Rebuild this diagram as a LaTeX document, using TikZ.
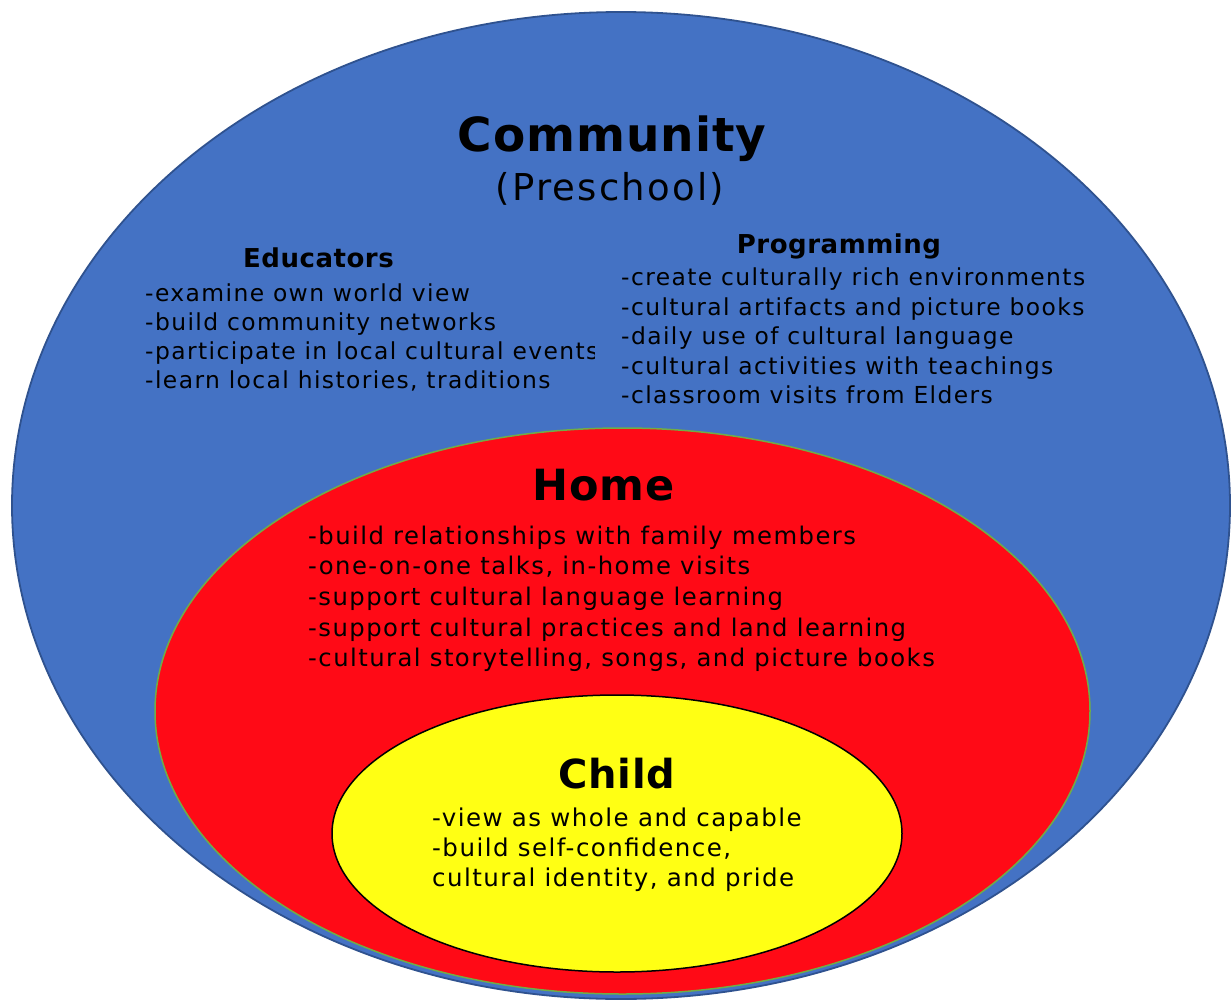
\documentclass[tikz,border=0pt]{standalone}
\usepackage{fontspec}
\newfontfamily\bodyf{DejaVu Sans}[LetterSpace=6]
\newfontfamily\headf{DejaVu Sans}[LetterSpace=2]
\definecolor{cblue}{HTML}{4472C4}
\definecolor{cbluedark}{HTML}{2F528F}
\definecolor{cred}{HTML}{FF0A16}
\definecolor{cgreen}{HTML}{70AD47}
\definecolor{cyellow}{HTML}{FFFF14}
\begin{document}
\begin{tikzpicture}[x=1pt,y=-1pt,
  body/.style={anchor=base west, inner sep=0pt, font=\bodyf\fontsize{#1}{28}\selectfont},
  body/.default=23.4,
  head/.style={anchor=base, inner sep=0pt, font=\headf\bfseries\fontsize{#1}{#1}\selectfont},
  sub/.style={anchor=base, inner sep=0pt, font=\bodyf\fontsize{#1}{#1}\selectfont}]
\useasboundingbox (0,0) rectangle (1232,1001);
% ellipses
\filldraw[fill=cblue, draw=cbluedark, line width=1.8pt] (621,505.5) ellipse [x radius=609pt, y radius=493.5pt];
\filldraw[fill=cred, draw=cgreen, line width=1.5pt] (622.5,711) ellipse [x radius=467.5pt, y radius=283pt];
\filldraw[fill=cyellow, draw=black, line width=1.5pt] (617,833.5) ellipse [x radius=285pt, y radius=138.5pt];
% Community
\node[head=47] (comm) at (612,151) {Community};
\node[sub=37] (pre) at (610,200) {(Preschool)};
% Educators
\node[head=26] (edu) at (318.5,267) {Educators};
\begin{scope}
\clip (140,270) rectangle (594,400);
\node[body] (e1) at (145,301) {-examine own world view};
\node[body] (e2) at (145,330) {-build community networks};
\node[body] (e3) at (145,359) {-participate in local cultural events};
\node[body] (e4) at (145,388) {-learn local histories, traditions};
\end{scope}
% Programming
\node[head=26] (prog) at (839,253) {Programming};
\node[body] (p1) at (621,285) {-create culturally rich environments};
\node[body] (p2) at (621,315) {-cultural artifacts and picture books};
\node[body] (p3) at (621,344) {-daily use of cultural language};
\node[body] (p4) at (621,374) {-cultural activities with teachings};
\node[body] (p5) at (621,403) {-classroom visits from Elders};
% Home
\node[head=43] (home) at (603.5,500) {Home};
\node[body=24.3] (h1) at (308,544) {-build relationships with family members};
\node[body=24.3] (h2) at (308,574) {-one-on-one talks, in-home visits};
\node[body=24.3] (h3) at (308,605) {-support cultural language learning};
\node[body=24.3] (h4) at (308,636) {-support cultural practices and land learning};
\node[body=24.3] (h5) at (308,666) {-cultural storytelling, songs, and picture books};
% Child
\node[head=40] (child) at (617,788) {Child};
\node[body=24.5] (c1) at (432,826) {-view as whole and capable};
\node[body=24.5] (c2) at (432,856) {-build self-confidence,};
\node[body=24.5] (c3) at (432,886) {cultural identity, and pride};
\end{tikzpicture}
\end{document}
